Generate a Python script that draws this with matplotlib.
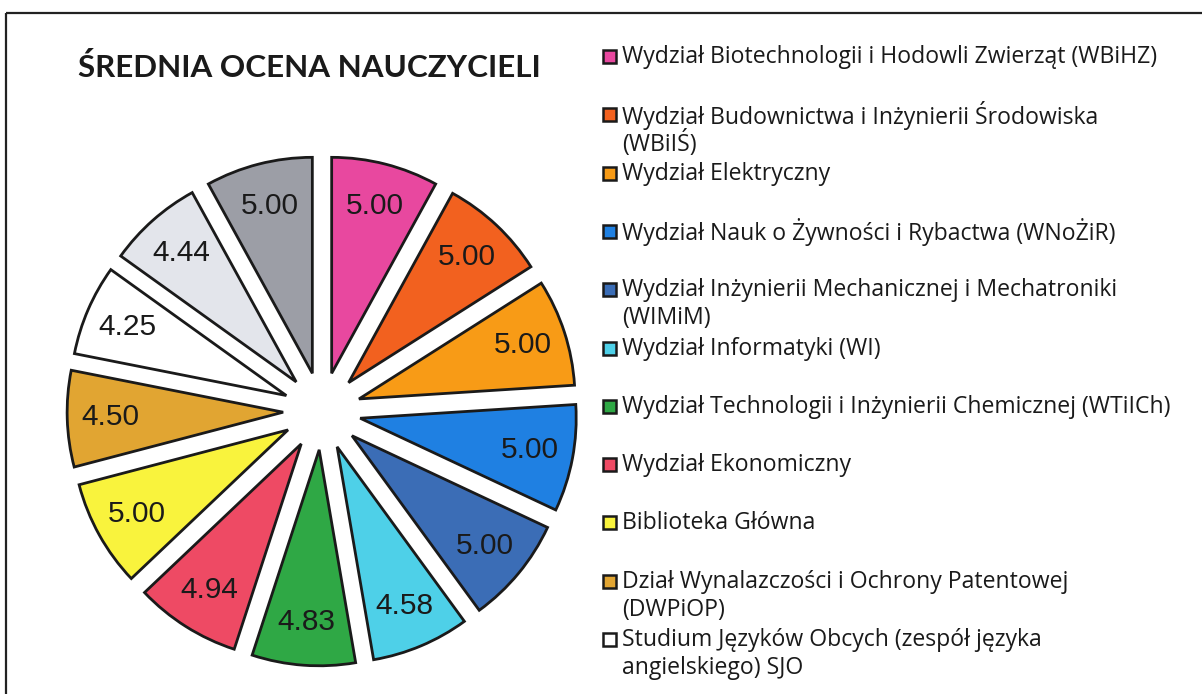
import numpy as np
import matplotlib.pyplot as plt
from matplotlib.patches import Rectangle

# data (clockwise from the top)
values = [5.00, 5.00, 5.00, 5.00, 5.00, 4.58, 4.83, 4.94, 5.00, 4.50, 4.25, 4.44, 5.00]
colors = ['#E8489F', '#F2611F', '#F89B16', '#1F80E2', '#3B6DB6', '#4ED0E8',
          '#2FA845', '#EE4A64', '#F9F33D', '#E1A532', '#FFFFFF', '#E3E5EB', '#9C9EA6']
legend_labels = [
    'Wydział Biotechnologii i Hodowli Zwierząt (WBiHZ)',
    'Wydział Budownictwa i Inżynierii Środowiska\n(WBiIŚ)',
    'Wydział Elektryczny',
    'Wydział Nauk o Żywności i Rybactwa (WNoŻiR)',
    'Wydział Inżynierii Mechanicznej i Mechatroniki\n(WIMiM)',
    'Wydział Informatyki (WI)',
    'Wydział Technologii i Inżynierii Chemicznej (WTiICh)',
    'Wydział Ekonomiczny',
    'Biblioteka Główna',
    'Dział Wynalazczości i Ochrony Patentowej\n(DWPiOP)',
    'Studium Języków Obcych (zespół języka\nangielskiego) SJO',
]
title = 'ŚREDNIA OCENA NAUCZYCIELI'

W, H = 1202, 694
fig = plt.figure(figsize=(W / 100, H / 100), dpi=100)
fig.patch.set_facecolor('white')

# pie axes, centre at about (322, 411) px, radius ~216 px
R = 216
span = 2.7
size = span * R
cx, cy = 322, H - 411
ax = fig.add_axes([(cx - size / 2) / W, (cy - size / 2) / H, size / W, size / H])
total = sum(values)
wedges, texts, autotexts = ax.pie(
    values, colors=colors, startangle=90, counterclock=False,
    explode=[0.18] * len(values),
    wedgeprops=dict(edgecolor='#1a1a1a', linewidth=2),
    autopct=lambda p: '%.2f' % (p * total / 100), pctdistance=0.8,
    textprops=dict(fontsize=21.5, family='Liberation Sans', color='#1a1a1a'))
ax.set_xlim(-span / 2, span / 2)
ax.set_ylim(-span / 2, span / 2)
ax.set_aspect('equal')
ax.axis('off')

# overlay in pixel coordinates for title, legend and frame
ov = fig.add_axes([0, 0, 1, 1], zorder=3)
ov.set_xlim(0, W)
ov.set_ylim(H, 0)
ov.axis('off')
ov.patch.set_alpha(0)

ov.add_patch(Rectangle((6, 13), W + 20, H + 20, fill=False, edgecolor='#222222', linewidth=1.6))
ov.text(78, 67, title, fontsize=22.6, fontweight='bold', family='Lato', color='#1a1a1a', va='center', ha='left')

# legend, fixed step per entry like the original
y0, step, line_h = 57, 58.3, 28
for i, lab in enumerate(legend_labels):
    y = y0 + i * step
    ov.add_patch(Rectangle((603, y - 7), 13, 13, facecolor=colors[i], edgecolor='#1a1a1a', linewidth=1.8))
    for j, part in enumerate(lab.split('\n')):
        ov.text(622, y + j * line_h, part, fontsize=16.6, family='Open Sans', color='#1a1a1a',
                va='center', ha='left')

fig.savefig('out.png', dpi=100)
